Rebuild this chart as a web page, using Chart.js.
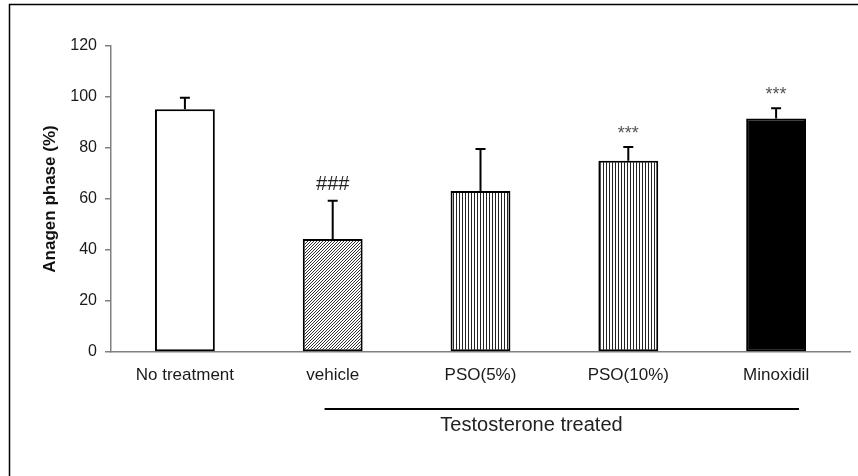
<!DOCTYPE html>
<html><head><meta charset="utf-8">
<script src="https://cdn.jsdelivr.net/npm/chart.js@4/dist/chart.umd.min.js"></script>
<style>html,body{margin:0;padding:0;background:#fff;} #wrap{width:858px;height:476px;}</style>
</head><body><div id="wrap"><canvas id="c" width="858" height="476"></canvas></div>
<script>
const categories = ['No treatment', 'vehicle', 'PSO(5%)', 'PSO(10%)', 'Minoxidil'];
const anagenMeans = [95.2, 44.3, 63.1, 75.0, 91.6];
const anagenErrors = [4.5, 15.0, 16.5, 5.4, 4.0];
const significance = ['', '###', '', '***', '***'];
const yTicks = [0, 20, 40, 60, 80, 100, 120];
const groupLabel = 'Testosterone treated';
const groupFrom = 1, groupTo = 4;

const FONT = "'Liberation Sans', Arial, sans-serif";

function makePattern(kind) {
  const c = document.createElement('canvas');
  const ctx = c.getContext('2d');
  if (kind === 'diag') {
    c.width = 3; c.height = 3;
    ctx.fillStyle = '#fff'; ctx.fillRect(0, 0, 3, 3);
    ctx.fillStyle = '#333';
    for (let i = 0; i < 3; i++) ctx.fillRect(2 - i, i, 1, 1);
  } else {
    c.width = 3; c.height = 3;
    ctx.fillStyle = '#fff'; ctx.fillRect(0, 0, 3, 3);
    ctx.fillStyle = '#222';
    ctx.fillRect(0, 0, 1, 3);
  }
  return document.getElementById('c').getContext('2d').createPattern(c, 'repeat');
}
const fills = ['#ffffff', makePattern('diag'), makePattern('vert'), makePattern('vert'), '#000000'];

const extras = {
  id: 'extras',
  afterDatasetsDraw(chart) {
    const ctx = chart.ctx;
    const y = chart.scales.y, x = chart.scales.x;
    const meta = chart.getDatasetMeta(0);
    ctx.save();
    ctx.strokeStyle = '#000';
    ctx.lineWidth = 2;
    meta.data.forEach((bar, i) => {
      const top = y.getPixelForValue(anagenMeans[i] + anagenErrors[i]);
      const base = y.getPixelForValue(anagenMeans[i]);
      ctx.beginPath();
      ctx.moveTo(bar.x, base);
      ctx.lineTo(bar.x, top);
      ctx.moveTo(bar.x - 5, top);
      ctx.lineTo(bar.x + 5, top);
      ctx.stroke();
      if (significance[i]) {
        const isHash = significance[i].startsWith('#');
        ctx.fillStyle = isHash ? '#222' : '#555';
        ctx.font = (isHash ? '20px ' : '18px ') + FONT;
        ctx.textAlign = 'center';
        ctx.textBaseline = 'middle';
        ctx.fillText(significance[i], bar.x, top - (isHash ? 16 : 13));
      }
    });
    const step = x.getPixelForValue(1) - x.getPixelForValue(0);
    const lx0 = x.getPixelForValue(groupFrom) - 0.055 * step;
    const lx1 = x.getPixelForValue(groupTo) + 0.155 * step;
    ctx.strokeStyle = '#000';
    ctx.lineWidth = 2;
    ctx.beginPath();
    ctx.moveTo(lx0, 409);
    ctx.lineTo(lx1, 409);
    ctx.stroke();
    ctx.fillStyle = '#222';
    ctx.font = '20px ' + FONT;
    ctx.textAlign = 'center';
    ctx.textBaseline = 'middle';
    ctx.fillText(groupLabel, x.getPixelForValue(2) + 0.345 * step, 425);
    ctx.strokeStyle = '#000';
    ctx.lineWidth = 1.5;
    ctx.beginPath();
    ctx.moveTo(9.5, 476);
    ctx.lineTo(9.5, 4.5);
    ctx.lineTo(858, 4.5);
    ctx.stroke();
    ctx.restore();
  }
};

new Chart(document.getElementById('c'), {
  type: 'bar',
  data: {
    labels: categories,
    datasets: [{
      data: anagenMeans,
      backgroundColor: fills,
      borderColor: '#000',
      borderWidth: 2,
      borderSkipped: false,
      categoryPercentage: 1,
      barPercentage: 0.405
    }]
  },
  options: {
    responsive: false,
    animation: false,
    devicePixelRatio: 1,
    layout: { padding: { top: 46, right: 8, left: 0, bottom: 0 } },
    plugins: { legend: { display: false }, tooltip: { enabled: false } },
    scales: {
      x: {
        grid: { display: true, drawOnChartArea: false, drawTicks: false, color: 'transparent' },
        border: { display: true, color: '#808080', width: 1.5 },
        ticks: { color: '#1a1a1a', font: { family: FONT, size: 17 }, padding: 13, maxRotation: 0 },
        afterFit(s) { s.height = 124; }
      },
      y: {
        min: 0, max: 120,
        afterBuildTicks(s) { s.ticks = yTicks.map(v => ({ value: v })); },
        grid: { drawOnChartArea: false, drawTicks: true, tickLength: 6, color: '#808080', lineWidth: 1.5 },
        border: { display: true, color: '#808080', width: 1.5 },
        ticks: { color: '#1a1a1a', font: { family: FONT, size: 16 }, padding: 8 },
        title: { display: true, text: 'Anagen phase (%)', color: '#111', font: { family: FONT, size: 17, weight: 'bold' }, padding: { top: 40, bottom: 4 } },
        afterFit(s) { s.width = 111; }
      }
    }
  },
  plugins: [extras]
});
</script>
</body></html>
